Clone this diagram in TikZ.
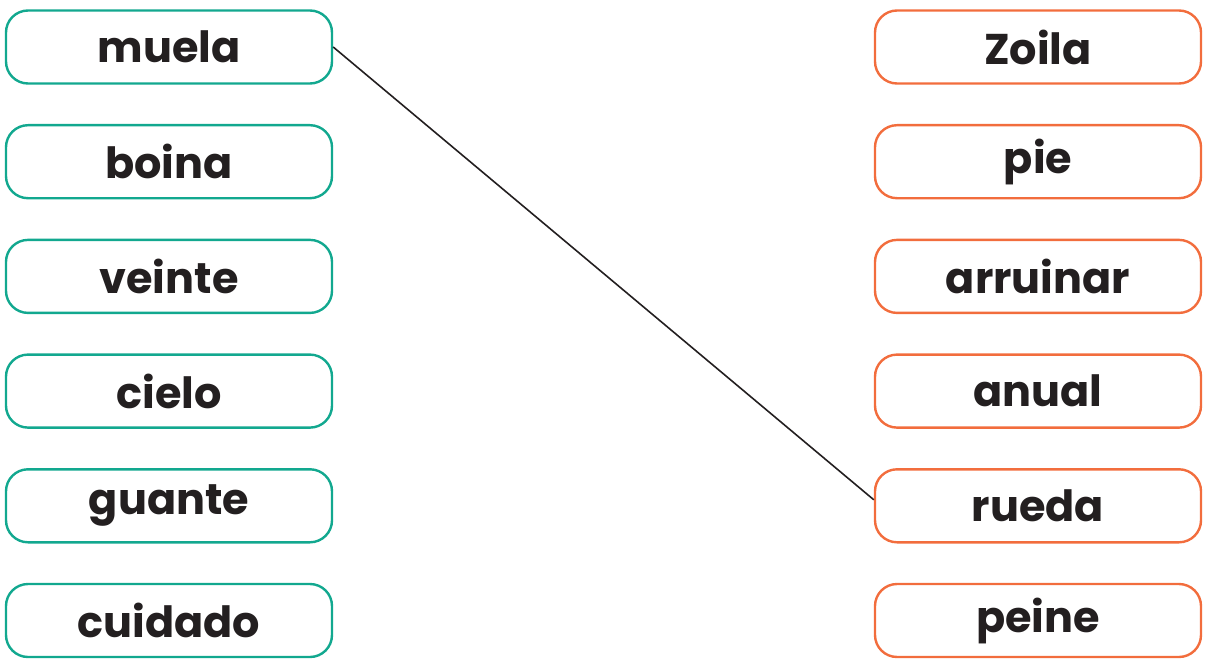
\documentclass[tikz,border=0pt]{standalone}
\usepackage{fontspec}
\setmainfont{Poppins}[UprightFont=* Bold, BoldFont=* Bold]
\definecolor{teal}{HTML}{12A88F}
\definecolor{orng}{HTML}{F26D3D}
\definecolor{ink}{HTML}{231F20}
\tikzset{
  wordbox/.style={draw, line width=2.4pt, rounded corners=22pt, minimum width=326pt, minimum height=73pt, inner sep=0pt, text=ink, font=\fontsize{43}{47}\selectfont},
  lbox/.style={wordbox, draw=teal},
  rbox/.style={wordbox, draw=orng},
}
\begin{document}
\begin{tikzpicture}[x=1pt,y=-1pt]
\useasboundingbox (0,0) rectangle (1207,666);
\node[lbox] (l1) at (169,47) {muela};
\node[lbox] (l2) at (169,161.7) {boina};
\node[lbox] (l3) at (169,276.4) {veinte};
\node[lbox] (l4) at (169,391.1) {cielo};
\node[lbox] (l5) at (169,505.8) {guante};
\node[lbox] (l6) at (169,620.5) {cuidado};
\node[rbox] (r1) at (1038,47) {Zoila};
\node[rbox] (r2) at (1038,161.7) {pie};
\node[rbox] (r3) at (1038,276.4) {arruinar};
\node[rbox] (r4) at (1038,391.1) {anual};
\node[rbox] (r5) at (1038,505.8) {rueda};
\node[rbox] (r6) at (1038,620.5) {peine};
\draw[line width=1.6pt, ink] (l1.east) -- ([yshift=6pt]r5.west);
\end{tikzpicture}
\end{document}
